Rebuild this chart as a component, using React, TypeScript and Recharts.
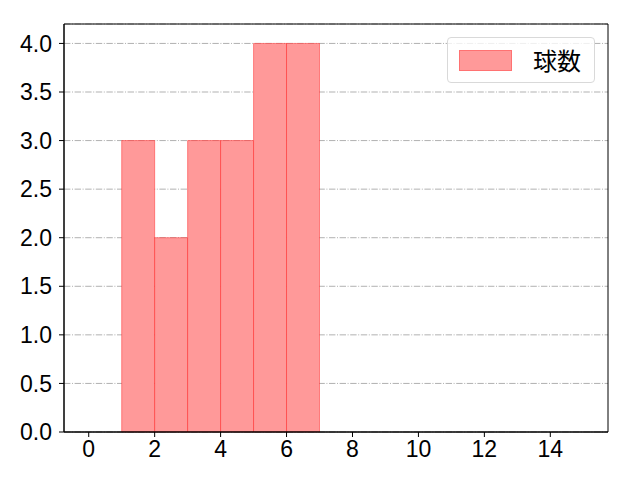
import { ComposedChart, XAxis, YAxis, CartesianGrid, ReferenceArea, Line } from "recharts";

// histogram bins: [start, end) and pitch counts
const binStarts = [1, 2, 3, 4, 5, 6];
const binEnds = [2, 3, 4, 5, 6, 7];
const counts = [3, 2, 3, 3, 4, 4];

const xTicks = [0, 2, 4, 6, 8, 10, 12, 14];
const yTicks = [0, 0.5, 1, 1.5, 2, 2.5, 3, 3.5, 4];
const xDomain = [-0.75, 15.75];
const yDomain = [0, 4.2];
const seriesName = "球数";

const TICK_FONT = "'Liberation Sans', Arial, sans-serif";
const CJK_FONT = "'Noto Sans CJK JP', sans-serif";

const data = binStarts.map((s, i) => ({ x: s, y: counts[i] }));

export default function App() {
  return (
    <div style={{ position: "relative", width: 640, height: 480, background: "#fff" }}>
      <style>{`body{margin:0}`}</style>
      <ComposedChart
        width={640}
        height={480}
        data={data}
        margin={{ top: 24, right: 32, bottom: 0, left: 0 }}
      >
        <CartesianGrid
          vertical={false}
          stroke="#a8a8a8"
          strokeDasharray="6.4 1.6 1 1.6"
          strokeWidth={0.9}
        />
        <XAxis
          dataKey="x"
          type="number"
          domain={xDomain}
          ticks={xTicks}
          allowDataOverflow
          height={48}
          tickSize={5}
          tickMargin={4}
          stroke="#000"
          tick={{ fill: "#000", fontSize: 23, fontFamily: TICK_FONT }}
          axisLine={{ stroke: "#000", strokeWidth: 1 }}
        />
        <YAxis
          type="number"
          domain={yDomain}
          ticks={yTicks}
          allowDataOverflow
          width={64}
          tickSize={5}
          tickMargin={7}
          stroke="#000"
          tickFormatter={(v: number) => v.toFixed(1)}
          tick={{ fill: "#000", fontSize: 23, fontFamily: TICK_FONT }}
          axisLine={{ stroke: "#000", strokeWidth: 1 }}
        />
        <Line dataKey="y" stroke="none" dot={false} isAnimationActive={false} legendType="none" />
        {binStarts.map((s, i) => (
          <ReferenceArea
            key={s}
            x1={s}
            x2={binEnds[i]}
            y1={0}
            y2={counts[i]}
            fill="#ff9999"
            fillOpacity={1}
            stroke="#ff0000"
            strokeOpacity={0.4}
            strokeWidth={1}
          />
        ))}
        <ReferenceArea
          x1={xDomain[0]}
          x2={xDomain[1]}
          y1={yDomain[0]}
          y2={yDomain[1]}
          fill="none"
          stroke="#000"
          strokeWidth={1}
          fillOpacity={0}
        />
      </ComposedChart>
      <div
        style={{
          position: "absolute",
          left: 447,
          top: 37,
          width: 148,
          height: 46,
          border: "1px solid #d9d9d9",
          borderRadius: 4,
          background: "rgba(255,255,255,0.8)",
          display: "flex",
          alignItems: "center",
          boxSizing: "border-box",
        }}
      >
        <div
          style={{
            marginLeft: 11,
            width: 53,
            height: 21,
            background: "#ff9999",
            border: "1px solid rgba(255,0,0,0.25)",
            boxSizing: "border-box",
          }}
        />
        <span style={{ marginLeft: 21, fontSize: 24, lineHeight: 1, fontFamily: CJK_FONT, color: "#000" }}>
          {seriesName}
        </span>
      </div>
    </div>
  );
}
